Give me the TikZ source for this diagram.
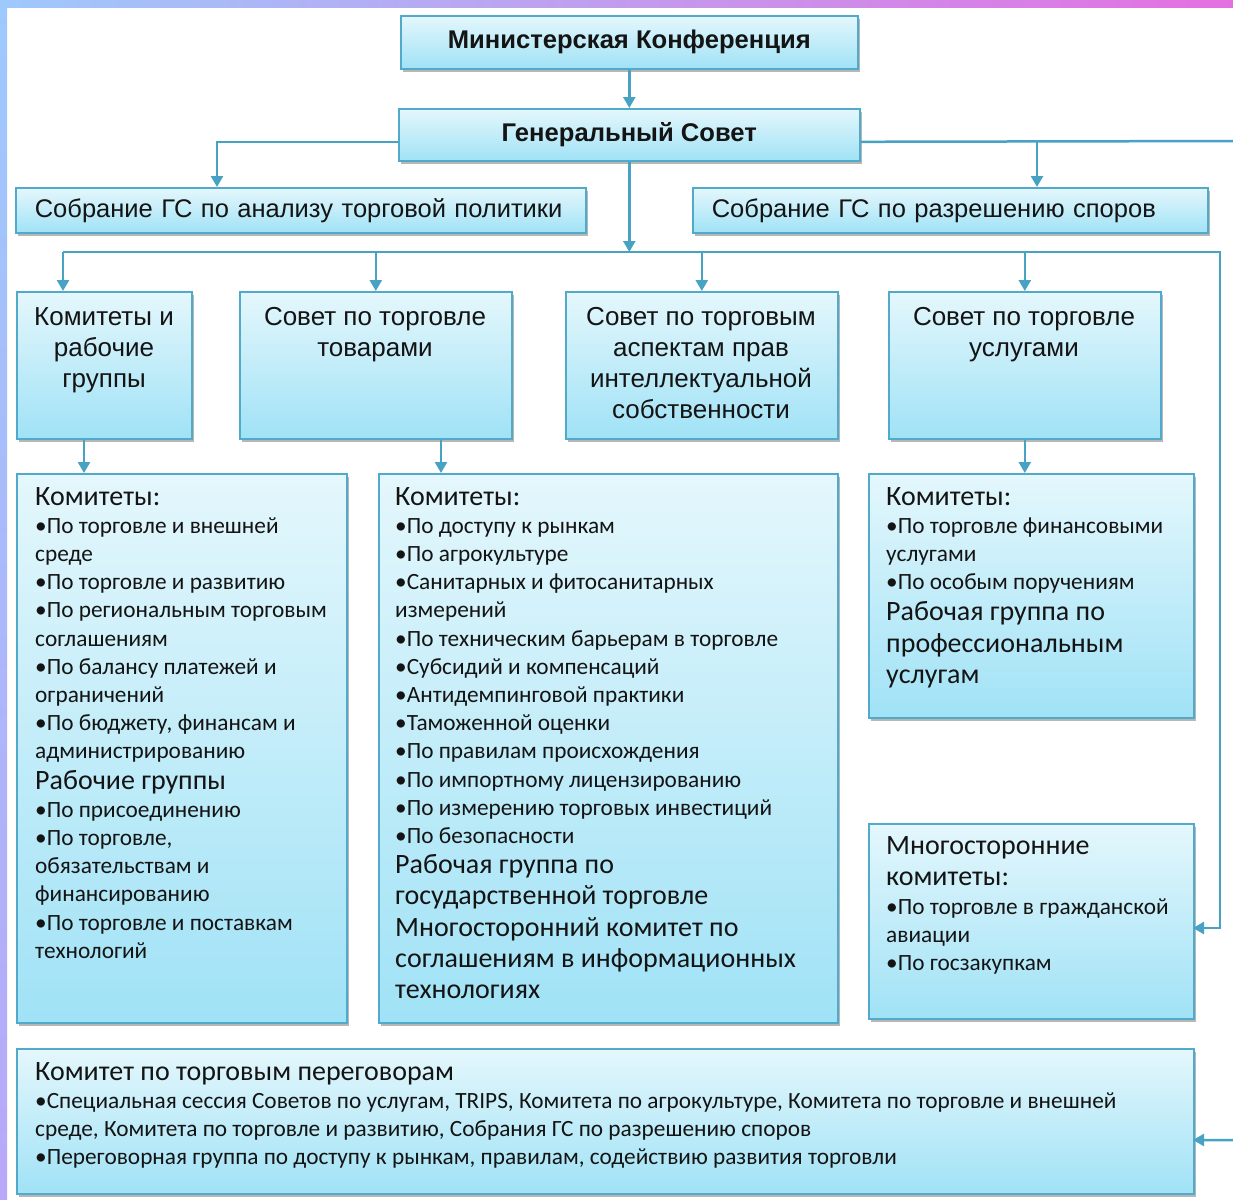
\documentclass[tikz,border=0pt]{standalone}
\usepackage{fontspec}
\setmainfont{Liberation Sans}
\newfontfamily\calfont{Carlito}
\usetikzlibrary{arrows.meta,shadows,calc}

\definecolor{boxline}{RGB}{82,170,202}
\definecolor{boxtop}{RGB}{228,247,252}
\definecolor{boxbot}{RGB}{160,226,246}
\definecolor{arrcol}{RGB}{72,162,196}
\definecolor{txt}{RGB}{20,20,20}
\definecolor{frA}{RGB}{158,201,252}
\definecolor{frB}{RGB}{198,162,246}
\definecolor{frC}{RGB}{228,112,224}
\definecolor{frD}{RGB}{184,168,248}

\newcommand\hdf{\fontsize{25.5}{31}\selectfont}
\newcommand\rtf{\fontsize{26}{31}\selectfont}
\newcommand\hdb{\fontsize{28}{31}\selectfont}
\newcommand\blf{\calfont\fontsize{23.3}{28.2}\selectfont}

\begin{document}
\begin{tikzpicture}[x=1pt,y=-1pt,
  box/.style={rectangle,draw=boxline,line width=1.6pt,top color=boxtop,bottom color=boxbot,
    anchor=north west,inner sep=0pt,
    drop shadow={shadow xshift=2.5pt,shadow yshift=-3pt,opacity=0.4,fill=black!70}},
  ttl/.style={font=\bfseries\fontsize{25.6}{30}\selectfont,text=txt},
  lbox/.style={box,font=\hdf,text=txt,align=left,inner xsep=19pt},
  hdtext/.style={font=\rtf,text=txt,align=center,inner sep=0pt,anchor=north},
  lst/.style={font=\blf,text=txt,align=left,inner sep=0pt,anchor=north west},
  line/.style={draw=arrcol,line width=2.5pt},
  arr/.style={line,-{Triangle[width=12pt,length=11pt]}}]

\useasboundingbox (0,0) rectangle (1233,1199);
\clip (0,0) rectangle (1233,1199);
\fill[white] (0,0) rectangle (1233,1199);
\shade[left color=frA,middle color=frB,right color=frC] (0,0) rectangle (1233,8);
\shade[top color=frA,bottom color=frD] (0,0) rectangle (7,1199);

% top boxes
\node[box,ttl,minimum width=457pt,minimum height=53pt] (mc) at (400,15) {Министерская Конференция};
\node[box,ttl,minimum width=461pt,minimum height=52pt] (gc) at (398,108) {Генеральный Совет};
\node[lbox,text width=532pt,minimum height=45pt] (ana) at (15,187) {Собрание ГС по анализу торговой политики};
\node[lbox,text width=477pt,minimum height=45pt] (dsp) at (692,187) {Собрание ГС по разрешению споров};

% row 2
\node[box,minimum width=175pt,minimum height=147pt] (r2a) at (16,291) {};
\node[box,minimum width=272pt,minimum height=147pt] (r2b) at (239,291) {};
\node[box,minimum width=272pt,minimum height=147pt] (r2c) at (565,291) {};
\node[box,minimum width=272pt,minimum height=147pt] (r2d) at (888,291) {};
\node[hdtext] (t2a) at (104,307) {Комитеты и\\рабочие\\группы};
\node[hdtext] (t2b) at (375,307) {Совет по торговле\\товарами};
\node[hdtext] (t2c) at (701,307) {Совет по торговым\\аспектам прав\\интеллектуальной\\собственности};
\node[hdtext] (t2d) at (1024,307) {Совет по торговле\\услугами};

% row 3
\node[box,minimum width=330pt,minimum height=549pt] (cwg) at (16,473) {};
\node[box,minimum width=459pt,minimum height=549pt] (gds) at (378,473) {};
\node[box,minimum width=325pt,minimum height=244pt] (svc) at (868,473) {};
\node[box,minimum width=325pt,minimum height=195pt] (mlt) at (868,823) {};
\node[box,minimum width=1177pt,minimum height=145pt] (tnc) at (16,1048) {};

\node[lst] (tcwg) at (35,487) {{\hdb Комитеты:}\\
•По торговле и внешней\\
среде\\
•По торговле и развитию\\
•По региональным торговым\\
соглашениям\\
•По балансу платежей и\\
ограничений\\
•По бюджету, финансам и\\
администрированию\\[2pt]
{\hdb Рабочие группы}\\
•По присоединению\\
•По торговле,\\
обязательствам и\\
финансированию\\
•По торговле и поставкам\\
технологий};

\node[lst] (tgds) at (395,487) {{\hdb Комитеты:}\\
•По доступу к рынкам\\
•По агрокультуре\\
•Санитарных и фитосанитарных\\
измерений\\
•По техническим барьерам в торговле\\
•Субсидий и компенсаций\\
•Антидемпинговой практики\\
•Таможенной оценки\\
•По правилам происхождения\\
•По импортному лицензированию\\
•По измерению торговых инвестиций\\
•По безопасности\\[2pt]
{\hdb Рабочая группа по}\\[3pt]
{\hdb государственной торговле}\\[3pt]
{\hdb Многосторонний комитет по}\\[3pt]
{\hdb соглашениям в информационных}\\[3pt]
{\hdb технологиях}};

\node[lst] (tsvc) at (886,487) {{\hdb Комитеты:}\\
•По торговле финансовыми\\
услугами\\
•По особым поручениям\\[3pt]
{\hdb Рабочая группа по}\\[3pt]
{\hdb профессиональным}\\[3pt]
{\hdb услугам}};

\node[lst] (tmlt) at (886,836) {{\hdb Многосторонние}\\[3pt]
{\hdb комитеты:}\\[1pt]
•По торговле в гражданской\\
авиации\\
•По госзакупкам};

\node[lst] (ttnc) at (35,1062) {{\hdb Комитет по торговым переговорам}\\
•Специальная сессия Советов по услугам, TRIPS, Комитета по агрокультуре, Комитета по торговле и внешней\\
среде, Комитета по торговле и развитию, Собрания ГС по разрешению споров\\
•Переговорная группа по доступу к рынкам, правилам, содействию развития торговли};

% coordinates
\coordinate (gcL) at ([yshift=-7pt]gc.west);
\coordinate (gcR) at ([yshift=-7pt]gc.east);
\coordinate (anaIn) at (217,187);
\coordinate (dspIn) at (1037,187);
\coordinate (edgeT) at (1250,141);
\coordinate (tncIn) at (1193,1140);
\coordinate (busL) at (63,252);
\coordinate (busR) at (1220,252);
\coordinate (mltIn) at (1193,928);
\coordinate (cwgIn) at (84,473);
\coordinate (gdsIn) at (441,473);

% connectors
\draw[arr] (mc.south) -- (gc.north);
\draw[arr] (gcL) -| (anaIn);
\draw[arr] (gcR -| dspIn) -- (dspIn);
\draw[arr] (gcR) -- (edgeT) |- (tncIn);
\draw[arr] (gc.south) -- (gc.south |- busL);
\draw[arr] (busL) -- (busR) |- (mltIn);
\draw[arr] (busL) -- (busL |- r2a.north);
\draw[arr] (busL -| r2b.north) -- (r2b.north);
\draw[arr] (busL -| r2c.north) -- (r2c.north);
\draw[arr] (busL -| r2d.north) -- (r2d.north);
\draw[arr] (r2a.south -| cwgIn) -- (cwgIn);
\draw[arr] (r2b.south -| gdsIn) -- (gdsIn);
\draw[arr] (r2d.south) -- (r2d.south |- svc.north);
\end{tikzpicture}
\end{document}
